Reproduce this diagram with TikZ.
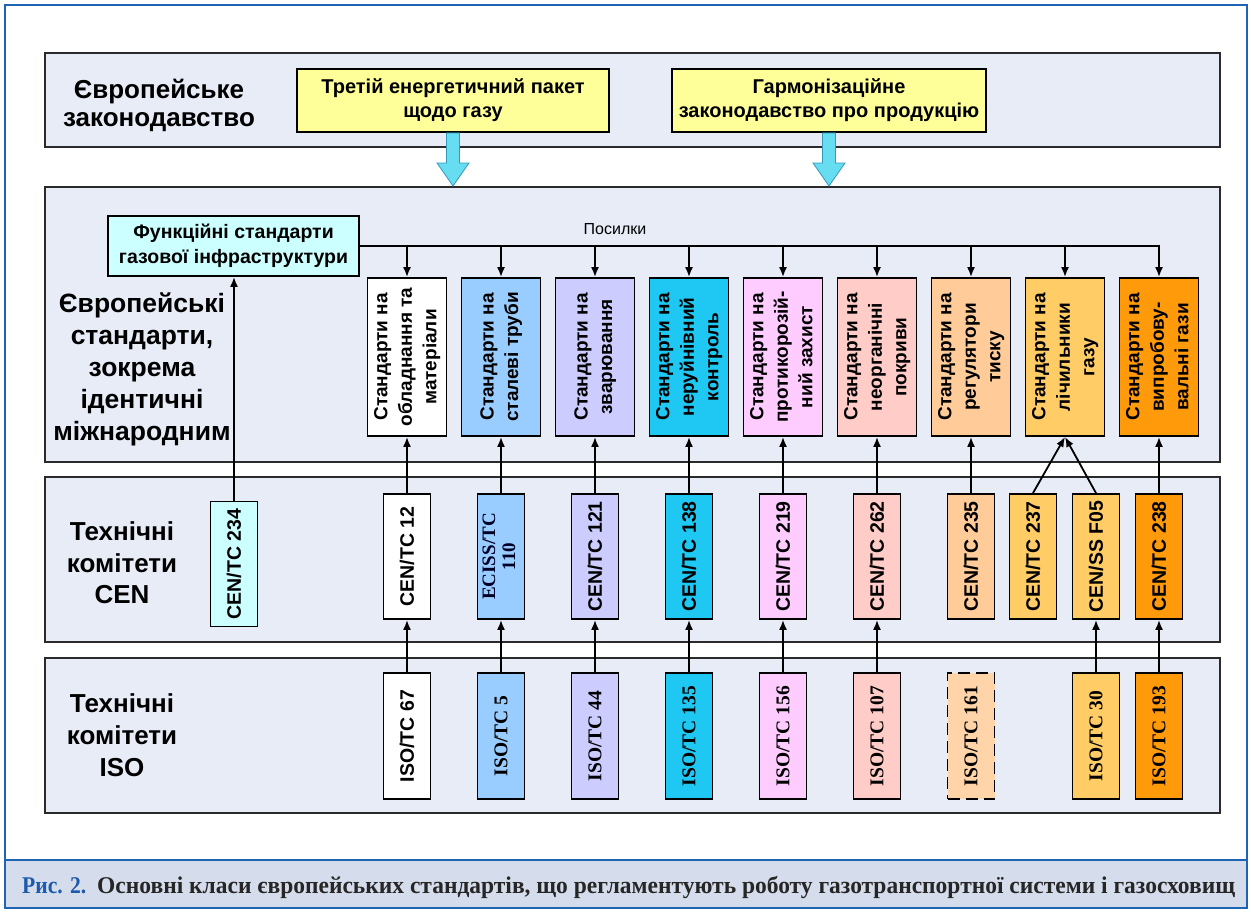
\documentclass[tikz,border=0pt]{standalone}
\usepackage{fontspec}
\usepackage{graphicx}
\setmainfont{Liberation Sans}
\newfontfamily\serifb{Liberation Serif}
\usetikzlibrary{arrows.meta,calc}
\definecolor{frameblue}{HTML}{1E64B4}
\definecolor{capblue}{HTML}{1E5AAA}
\definecolor{panelfill}{HTML}{E7ECF6}
\definecolor{capfill}{HTML}{D5DCEC}
\definecolor{panelline}{HTML}{2A2A2A}
\definecolor{yfill}{HTML}{FFFF99}
\definecolor{paleCyan}{HTML}{CCFFFF}
\definecolor{cA}{HTML}{FFFFFF}
\definecolor{cB}{HTML}{99CCFF}
\definecolor{cC}{HTML}{CCCCFF}
\definecolor{cD}{HTML}{1EC8F2}
\definecolor{cE}{HTML}{FFCCFF}
\definecolor{cF}{HTML}{FFCCC8}
\definecolor{cG}{HTML}{FFCC99}
\definecolor{cH}{HTML}{FFCC66}
\definecolor{cI}{HTML}{FF9A0A}
\definecolor{arrfill}{HTML}{66DDF0}
\definecolor{arrline}{HTML}{3399BB}
\newcommand{\vt}[1]{\rotatebox{90}{\begin{tabular}{@{}c@{}}#1\end{tabular}}}
\newcommand{\vl}[1]{\rotatebox{90}{#1}}
\begin{document}
\begin{tikzpicture}[x=1pt,y=-1pt,
  panel/.style={draw=panelline, line width=2pt, fill=panelfill, minimum width=1175pt, inner sep=0pt},
  hdr/.style={align=center, font=\bfseries\fontsize{26}{28}\selectfont, inner sep=0pt},
  ybox/.style={draw=black, line width=1.8pt, fill=yfill, align=center, inner sep=0pt,
    font=\bfseries\fontsize{20}{24}\selectfont, minimum height=63pt},
  fbox/.style={draw=black, line width=1.8pt, fill=paleCyan, align=center, inner sep=0pt,
    font=\bfseries\fontsize{19.5}{25}\selectfont, minimum width=251pt, minimum height=60pt},
  sbox/.style={draw=black, line width=1.8pt, inner sep=0pt, minimum width=79pt, minimum height=158pt,
    font=\bfseries\fontsize{19}{24.5}\selectfont},
  cbox/.style={draw=black, line width=1.8pt, inner sep=0pt, minimum width=47pt, minimum height=125pt,
    font=\bfseries\fontsize{19.5}{20}\selectfont},
  ibox/.style={draw=black, line width=1.8pt, inner sep=0pt, minimum width=47pt, minimum height=126pt,
    font=\serifb\bfseries\fontsize{19.5}{20}\selectfont},
  arr/.style={line width=1.8pt, -{Latex[length=10pt,width=8pt]}},
  ln/.style={line width=1.8pt},
  bigarr/.style={fill=arrfill, draw=arrline, line width=0.8pt, line join=miter}
]
\useasboundingbox (0,0) rectangle (1251,913);
\fill[white] (0,0) rectangle (1251,913);
\fill[capfill] (5,860) rectangle (1247,908);
\draw[frameblue, line width=2.5pt] (5,5) rectangle (1247,908);
\draw[frameblue, line width=2.5pt] (5,860) -- (1247,860);

% panels
\node[panel, minimum height=94pt] (pEU) at (632.5,100) {};
\node[panel, minimum height=275pt] (pES) at (632.5,324.5) {};
\node[panel, minimum height=165pt] (pCEN) at (632.5,559.5) {};
\node[panel, minimum height=155pt] (pISO) at (632.5,735.5) {};

% panel titles
\node[hdr] (tEU) at (159,105) {Європейське\\законодавство};
\node[hdr, font=\bfseries\fontsize{26.5}{32}\selectfont] (tES) at (142,369) {Європейські\\стандарти,\\зокрема\\ідентичні\\міжнародним};
\node[hdr, font=\bfseries\fontsize{26}{31.5}\selectfont] (tCEN) at (122,563) {Технічні\\комітети\\CEN};
\node[hdr, font=\bfseries\fontsize{26}{32}\selectfont] (tISO) at (122,735) {Технічні\\комітети\\ISO};

% legislation boxes
\node[ybox, minimum width=312pt] (y1) at (453,100.5) {Третій енергетичний пакет\\щодо газу};
\node[ybox, minimum width=314pt] (y2) at (829,100.5) {Гармонізаційне\\законодавство про продукцію};

% big cyan arrows
\foreach \n in {y1,y2}{
  \path (\n.south) coordinate (s) (\n.south |- pES.north) coordinate (e);
  \draw[bigarr] ($(s)+(-6.5,0)$) -- ($(e)+(-6.5,-23)$) -- ($(e)+(-16,-23)$) -- (e)
     -- ($(e)+(16,-23)$) -- ($(e)+(6.5,-23)$) -- ($(s)+(6.5,0)$) -- cycle;
}

% functional standards
\node[fbox] (func) at (233.5,246) {Функційні стандарти\\газової інфраструктури};
\node[font=\fontsize{16}{16}\selectfont, inner sep=0pt] (pos) at (615,229) {Посилки};

% standards boxes
\node[sbox, fill=cA] (s1) at (407,357) {\vt{Стандарти на\\обладнання та\\матеріали}};
\node[sbox, fill=cB] (s2) at (501,357) {\vt{Стандарти на\\сталеві труби}};
\node[sbox, fill=cC] (s3) at (595,357) {\vt{Стандарти на\\зварювання}};
\node[sbox, fill=cD] (s4) at (689,357) {\vt{Стандарти на\\неруйнівний\\контроль}};
\node[sbox, fill=cE] (s5) at (783,357) {\vt{Стандарти на\\протикорозій-\\ний захист}};
\node[sbox, fill=cF] (s6) at (877,357) {\vt{Стандарти на\\неорганічні\\покриви}};
\node[sbox, fill=cG] (s7) at (971,357) {\vt{Стандарти на\\регулятори\\тиску}};
\node[sbox, fill=cH] (s8) at (1065,357) {\vt{Стандарти на\\лічильники\\газу}};
\node[sbox, fill=cI] (s9) at (1159,357) {\vt{Стандарти на\\випробову-\\вальні гази}};

% CEN committees
\node[cbox, fill=paleCyan] (c234) at (234,564) {\vl{CEN/TC 234}};
\node[cbox, fill=cA] (c12) at (407,556.5) {\vl{CEN/TC 12}};
\node[cbox, fill=cB, font=\serifb\bfseries\fontsize{19}{20}\selectfont, text=black!85!blue] (c110) at (501,556.5) {\vt{ECISS/TC\\110}};
\node[cbox, fill=cC] (c121) at (595,556.5) {\vl{CEN/TC 121}};
\node[cbox, fill=cD] (c138) at (689,556.5) {\vl{CEN/TC 138}};
\node[cbox, fill=cE] (c219) at (783,556.5) {\vl{CEN/TC 219}};
\node[cbox, fill=cF] (c262) at (877,556.5) {\vl{CEN/TC 262}};
\node[cbox, fill=cG] (c235) at (971,556.5) {\vl{CEN/TC 235}};
\node[cbox, fill=cH] (c237) at (1033,556.5) {\vl{CEN/TC 237}};
\node[cbox, fill=cH] (cf05) at (1096,556.5) {\vl{CEN/SS F05}};
\node[cbox, fill=cI] (c238) at (1159,556.5) {\vl{CEN/TC 238}};

% ISO committees
\node[ibox, fill=cA, font=\bfseries\fontsize{19.5}{20}\selectfont] (i67) at (407,736) {\vl{ISO/TC 67}};
\node[ibox, fill=cB] (i5) at (501,736) {\vl{ISO/TC 5}};
\node[ibox, fill=cC] (i44) at (595,736) {\vl{ISO/TC 44}};
\node[ibox, fill=cD] (i135) at (689,736) {\vl{ISO/TC 135}};
\node[ibox, fill=cE] (i156) at (783,736) {\vl{ISO/TC 156}};
\node[ibox, fill=cF] (i107) at (877,736) {\vl{ISO/TC 107}};
\node[ibox, fill=cG!85!white, dash pattern=on 12pt off 6pt] (i161) at (971,736) {\vl{ISO/TC 161}};
\node[ibox, fill=cH] (i30) at (1096,736) {\vl{ISO/TC 30}};
\node[ibox, fill=cI] (i193) at (1159,736) {\vl{ISO/TC 193}};

% references line
\draw[arr] (func.east) -| (s9.north);
\foreach \s in {s1,s2,s3,s4,s5,s6,s7,s8}{
  \draw[arr] (\s.north |- func.east) -- (\s.north);
}
\draw[arr] (c234.north) -- (c234.north |- func.south);

% CEN -> standards
\draw[arr] (c12.north) -- (s1.south);
\draw[arr] (c110.north) -- (s2.south);
\draw[arr] (c121.north) -- (s3.south);
\draw[arr] (c138.north) -- (s4.south);
\draw[arr] (c219.north) -- (s5.south);
\draw[arr] (c262.north) -- (s6.south);
\draw[arr] (c235.north) -- (s7.south);
\draw[arr] (c237.north) -- (s8.south);
\draw[arr] (cf05.north) -- (s8.south);
\draw[arr] (c238.north) -- (s9.south);

% ISO -> CEN
\draw[arr] (i67.north) -- (c12.south);
\draw[arr] (i5.north) -- (c110.south);
\draw[arr] (i44.north) -- (c121.south);
\draw[arr] (i135.north) -- (c138.south);
\draw[arr] (i156.north) -- (c219.south);
\draw[arr] (i107.north) -- (c262.south);
\draw[arr] (i30.north) -- (cf05.south);
\draw[arr] (i193.north) -- (c238.south);

% caption
\node[anchor=base west, inner sep=0pt, text=capblue, font=\serifb\bfseries\fontsize{24}{24}\selectfont] (cap1) at (22,893) {\resizebox{64pt}{\height}{Рис. 2.}};
\node[anchor=base west, inner sep=0pt, text=black!85, font=\serifb\bfseries\fontsize{24}{24}\selectfont] (cap2) at (97,893) {\resizebox{1138pt}{\height}{Основні класи європейських стандартів, що регламентують роботу газотранспортної системи і газосховищ}};
\end{tikzpicture}
\end{document}
